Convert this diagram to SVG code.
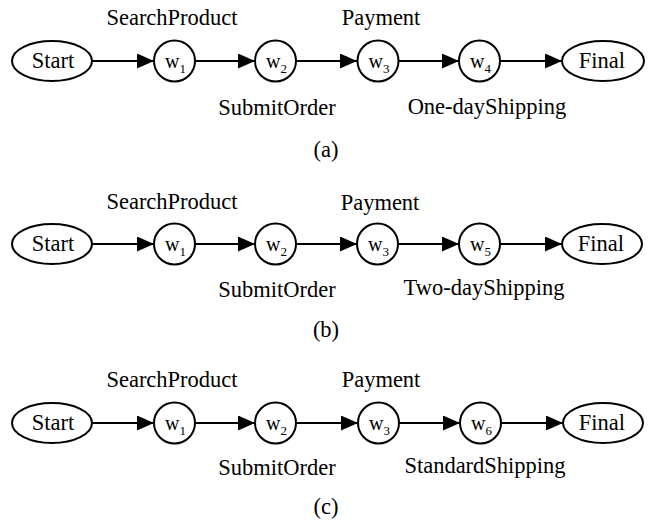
<svg xmlns="http://www.w3.org/2000/svg" width="651" height="523" viewBox="0 0 651 523">
<style>
  text { font-family: "Liberation Serif", "Times New Roman", serif; fill: #000; }
  .lbl { font-size: 22.5px; text-anchor: middle; }
  .nm { font-size: 22.5px; text-anchor: middle; }
  .w { font-size: 20px; }
  .sub { font-size: 13px; }
  .shape { fill: #fff; stroke: #000; stroke-width: 2; }
  .edge { stroke: #000; stroke-width: 2; fill: none; marker-end: url(#arr); }
</style>
<defs>
  <marker id="arr" markerUnits="userSpaceOnUse" markerWidth="17" markerHeight="15" refX="17" refY="7.5" orient="auto">
    <path d="M0,0 L17,7.5 L0,15 Z" fill="#000"/>
  </marker>
</defs>
<rect width="651" height="523" fill="#fff"/>

<!-- Row (a) -->
<g id="connectors-a">
  <line class="edge" x1="92" y1="61" x2="154" y2="61"/>
  <line class="edge" x1="195" y1="61" x2="255" y2="61"/>
  <line class="edge" x1="296" y1="61" x2="357" y2="61"/>
  <line class="edge" x1="399" y1="61" x2="459" y2="61"/>
  <line class="edge" x1="500" y1="61" x2="562" y2="61"/>
</g>
<g id="a-start"><ellipse class="shape" cx="52" cy="61" rx="40" ry="20"/><text class="nm" x="53" y="68">Start</text></g>
<g id="a-w1"><circle class="shape" cx="174.5" cy="61" r="20.5"/><text class="w" x="165" y="68">w<tspan class="sub" dy="5">1</tspan></text></g>
<g id="a-w2"><circle class="shape" cx="275.5" cy="61" r="20.5"/><text class="w" x="266" y="68">w<tspan class="sub" dy="5">2</tspan></text></g>
<g id="a-w3"><circle class="shape" cx="378" cy="61" r="20.5"/><text class="w" x="368.5" y="68">w<tspan class="sub" dy="5">3</tspan></text></g>
<g id="a-w4"><circle class="shape" cx="479.5" cy="61" r="20.5"/><text class="w" x="470" y="68">w<tspan class="sub" dy="5">4</tspan></text></g>
<g id="a-final"><ellipse class="shape" cx="603" cy="61" rx="41" ry="20"/><text class="nm" x="602" y="68">Final</text></g>
<g id="a-labels">
  <text class="lbl" x="172" y="25">SearchProduct</text>
  <text class="lbl" x="381" y="25">Payment</text>
  <text class="lbl" x="277" y="115">SubmitOrder</text>
  <text class="lbl" x="487" y="114">One-dayShipping</text>
  <text class="lbl" x="326" y="157">(a)</text>
</g>

<!-- Row (b) -->
<g id="connectors-b">
  <line class="edge" x1="92" y1="244" x2="154" y2="244"/>
  <line class="edge" x1="195" y1="244" x2="255" y2="244"/>
  <line class="edge" x1="296" y1="244" x2="357" y2="244"/>
  <line class="edge" x1="398" y1="244" x2="459" y2="244"/>
  <line class="edge" x1="500" y1="244" x2="562" y2="244"/>
</g>
<g id="b-start"><ellipse class="shape" cx="52" cy="244" rx="40" ry="20"/><text class="nm" x="53" y="251">Start</text></g>
<g id="b-w1"><circle class="shape" cx="174.5" cy="244" r="20.5"/><text class="w" x="165" y="251">w<tspan class="sub" dy="5">1</tspan></text></g>
<g id="b-w2"><circle class="shape" cx="275.5" cy="244" r="20.5"/><text class="w" x="266" y="251">w<tspan class="sub" dy="5">2</tspan></text></g>
<g id="b-w3"><circle class="shape" cx="377.5" cy="244" r="20.5"/><text class="w" x="368" y="251">w<tspan class="sub" dy="5">3</tspan></text></g>
<g id="b-w5"><circle class="shape" cx="479.5" cy="244" r="20.5"/><text class="w" x="470" y="251">w<tspan class="sub" dy="5">5</tspan></text></g>
<g id="b-final"><ellipse class="shape" cx="602" cy="244" rx="40" ry="20"/><text class="nm" x="601" y="251">Final</text></g>
<g id="b-labels">
  <text class="lbl" x="172" y="209">SearchProduct</text>
  <text class="lbl" x="380" y="210">Payment</text>
  <text class="lbl" x="277" y="297">SubmitOrder</text>
  <text class="lbl" x="484" y="295">Two-dayShipping</text>
  <text class="lbl" x="326" y="337">(b)</text>
</g>

<!-- Row (c) -->
<g id="connectors-c">
  <line class="edge" x1="92" y1="423" x2="154" y2="423"/>
  <line class="edge" x1="195" y1="423" x2="255" y2="423"/>
  <line class="edge" x1="296" y1="423" x2="358" y2="423"/>
  <line class="edge" x1="399" y1="423" x2="460" y2="423"/>
  <line class="edge" x1="501" y1="423" x2="563" y2="423"/>
</g>
<g id="c-start"><ellipse class="shape" cx="52" cy="423" rx="40" ry="20"/><text class="nm" x="53" y="430">Start</text></g>
<g id="c-w1"><circle class="shape" cx="174.5" cy="423" r="20.5"/><text class="w" x="165" y="430">w<tspan class="sub" dy="5">1</tspan></text></g>
<g id="c-w2"><circle class="shape" cx="275.5" cy="423" r="20.5"/><text class="w" x="266" y="430">w<tspan class="sub" dy="5">2</tspan></text></g>
<g id="c-w3"><circle class="shape" cx="378.5" cy="423" r="20.5"/><text class="w" x="369" y="430">w<tspan class="sub" dy="5">3</tspan></text></g>
<g id="c-w6"><circle class="shape" cx="480.5" cy="423" r="20.5"/><text class="w" x="471" y="430">w<tspan class="sub" dy="5">6</tspan></text></g>
<g id="c-final"><ellipse class="shape" cx="603" cy="423" rx="40" ry="20"/><text class="nm" x="602" y="430">Final</text></g>
<g id="c-labels">
  <text class="lbl" x="172" y="387">SearchProduct</text>
  <text class="lbl" x="381" y="387">Payment</text>
  <text class="lbl" x="277" y="475">SubmitOrder</text>
  <text class="lbl" x="485" y="473">StandardShipping</text>
  <text class="lbl" x="326" y="514">(c)</text>
</g>
</svg>
